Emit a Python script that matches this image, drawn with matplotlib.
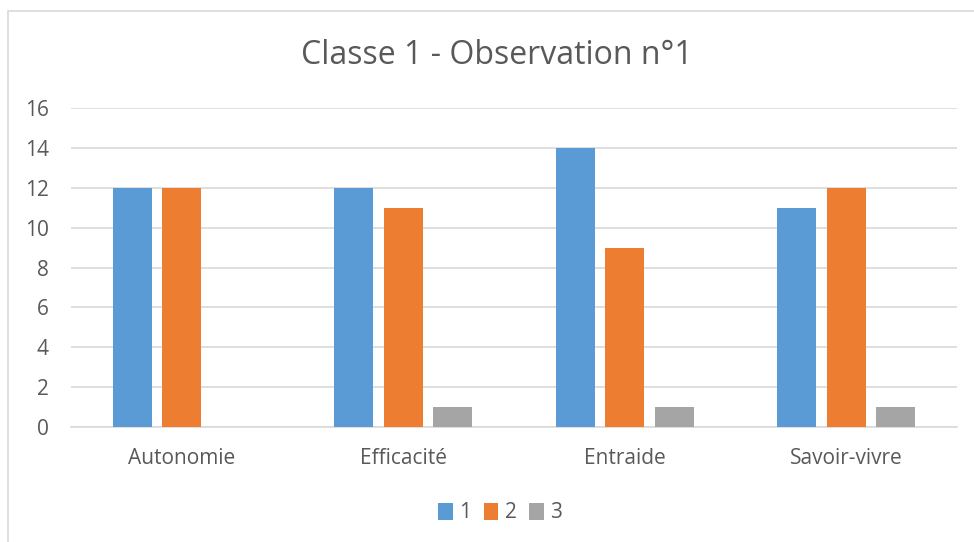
import matplotlib.pyplot as plt
import numpy as np
from matplotlib.patches import Rectangle

# data
categories = ["Autonomie", "Efficacité", "Entraide", "Savoir-vivre"]
series_names = ["1", "2", "3"]
serie_1 = [12, 12, 14, 11]
serie_2 = [12, 11, 9, 12]
serie_3 = [0, 1, 1, 1]
colors = ["#5B9BD5", "#ED7D31", "#A5A5A5"]

plt.rcParams['font.family'] = ['Open Sans', 'DejaVu Sans']
text_color = "#595959"
grid_color = "#D9D9D9"

fig = plt.figure(figsize=(9.74, 5.42), dpi=100)
ax = fig.add_axes([71 / 974, 1 - 427 / 542, (957 - 71) / 974, (427 - 108) / 542])

# chart area border (cropped on right/bottom)
fig.patches.append(Rectangle((7.5 / 974, -0.1), 1.2, 1 - 10.5 / 542 + 0.1,
                             transform=fig.transFigure, fill=False,
                             edgecolor=grid_color, lw=1.2))

x = np.arange(len(categories))
width = 0.176
step = 0.224
for i, vals in enumerate([serie_1, serie_2, serie_3]):
    ax.bar(x + (i - 1) * step, vals, width, color=colors[i], label=series_names[i],
           zorder=3)

ax.set_xlim(-0.5, len(categories) - 0.5)
ax.set_ylim(0, 16)
ax.set_yticks(range(0, 17, 2))
ax.set_xticks(x)
ax.set_xticklabels(categories)
ax.tick_params(length=0, colors=text_color, labelsize=15)
ax.tick_params(axis='x', pad=15)
ax.tick_params(axis='y', pad=16)
ax.grid(axis='y', color=grid_color, lw=1.2, zorder=0)
for s in ["top", "right", "left"]:
    ax.spines[s].set_visible(False)
ax.spines["bottom"].set_color(grid_color)
ax.spines["bottom"].set_linewidth(1.2)

fig.text(497 / 974, 1 - 55 / 542, "Classe 1 - Observation n°1", ha='center',
         va='center', fontsize=23, color=text_color)

leg = fig.legend(loc='center', bbox_to_anchor=(500 / 974, 1 - 513 / 542), ncol=3,
                 frameon=False, fontsize=15, handlelength=0.7, handleheight=0.9,
                 handletextpad=0.3, columnspacing=0.6, labelcolor=text_color)

fig.savefig("out.png", dpi=100)
